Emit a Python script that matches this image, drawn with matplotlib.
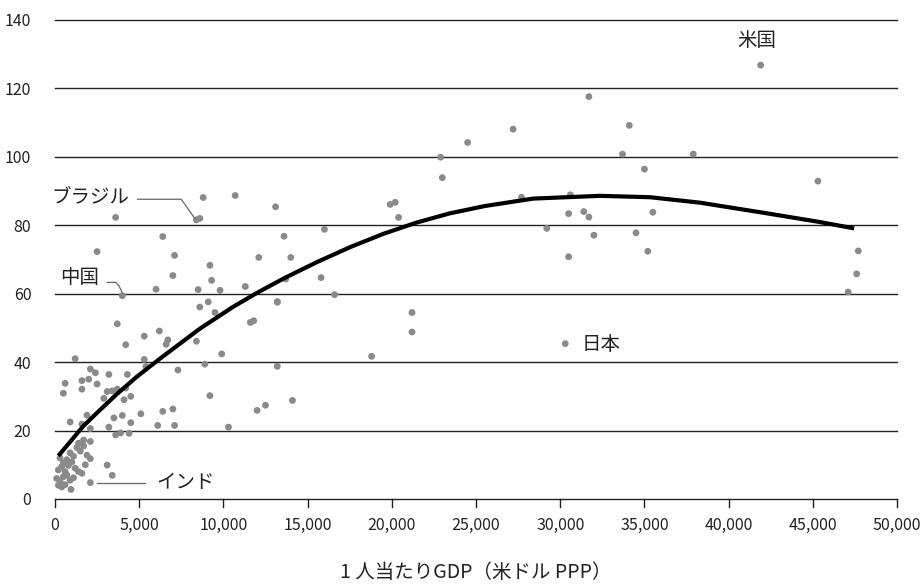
import matplotlib
matplotlib.use("Agg")
import matplotlib.pyplot as plt
from matplotlib import font_manager

plt.rcParams['font.family'] = ['Noto Sans CJK JP', 'DejaVu Sans']

names = {f.name for f in font_manager.fontManager.ttflist}
tick_family = ['Liberation Sans Narrow'] if 'Liberation Sans Narrow' in names else ['Noto Sans CJK JP']

# ---- data (GDP per capita, USD PPP ; index value) ----
gdp = [
    41900, 31700, 27200, 24500, 34100, 22900, 23000, 33700, 37900, 35000,
    45300, 27700, 30600, 19900, 20200, 20400, 30500, 31400, 31700, 35500,
    29200, 32000, 34500, 35200, 30500, 47700, 47600, 47100, 16000, 13600,
    14000, 15800, 16600, 21200, 21200, 18800, 30300, 13700, 13200,
    8400, 8600, 8800, 10700, 13100, 3600, 2500, 6400, 7100, 7000,
    9200, 9300, 6000, 8500, 9800, 4000, 11300, 12100, 8600, 9100,
    9500, 13200, 3700, 11600, 11800, 8400, 6200, 6700, 6600, 5300,
    4200, 9900, 8900, 13200, 5300, 5400, 7300, 9200, 14100, 12000,
    12500, 10300, 7000, 6400, 6100, 7100, 5100,
    1200, 2100, 2400, 3200, 4300, 600, 500, 1600, 2000, 1600,
    2500, 3100, 3400, 3700, 4200, 2900, 4100, 4500, 900, 1600,
    1900, 2100, 3200, 3500, 4000, 4500, 3600, 3900, 4400, 1700,
    2100, 1400,
    300, 500, 700, 900, 1100, 1300, 1500, 1700, 1900, 2100,
    200, 400, 600, 800, 1000, 1200, 1400, 1600, 1800,
    100, 300, 500, 700, 900, 1100, 200, 400, 950, 600,
    2100, 3100, 3400,
]
score = [
    126.8, 117.6, 108.1, 104.2, 109.2, 99.9, 93.9, 100.8, 100.8, 96.4,
    92.9, 88.2, 88.9, 86.1, 86.7, 82.3, 83.4, 84.0, 82.4, 83.8,
    79.1, 77.1, 77.8, 72.4, 70.8, 72.5, 65.8, 60.5, 78.8, 76.8,
    70.6, 64.7, 59.7, 54.5, 48.8, 41.7, 45.4, 64.3, 57.7,
    81.6, 82.0, 88.1, 88.7, 85.4, 82.3, 72.3, 76.7, 71.2, 65.3,
    68.3, 63.9, 61.3, 61.2, 61.0, 59.4, 62.1, 70.6, 56.1, 57.6,
    54.5, 57.5, 51.2, 51.6, 52.1, 46.1, 49.1, 46.5, 45.2, 47.6,
    45.1, 42.4, 39.4, 38.8, 40.8, 38.7, 37.7, 30.2, 28.8, 25.9,
    27.4, 21.0, 26.3, 25.6, 21.5, 21.5, 24.9,
    41.0, 38.0, 36.9, 36.4, 36.4, 33.8, 30.9, 34.6, 35.0, 32.1,
    33.6, 31.4, 31.6, 32.1, 32.4, 29.4, 29.0, 30.0, 22.5, 21.9,
    24.5, 20.6, 21.0, 23.7, 24.4, 22.3, 18.7, 19.3, 19.2, 17.2,
    16.8, 16.3,
    12.0, 10.5, 11.5, 13.5, 12.5, 15.0, 14.0, 15.5, 12.8, 11.8,
    8.5, 9.5, 8.0, 9.8, 10.8, 9.0, 8.0, 7.5, 10.0,
    6.0, 5.0, 6.5, 7.0, 5.5, 6.2, 4.0, 3.5, 2.8, 4.2,
    4.8, 9.9, 6.9,
]

# trend curve
trend_x = [200, 1680, 2670, 3660, 4850, 6230, 8610, 10590, 11980, 13560,
           15540, 17520, 19500, 21480, 23460, 25500, 28400, 32360, 35330,
           38300, 42260, 45230, 47450]
trend_y = [12.6, 21.3, 26.0, 30.6, 35.7, 41.0, 49.8, 56.2, 60.2, 64.4,
           69.2, 73.6, 77.5, 80.8, 83.5, 85.6, 87.8, 88.6, 88.2,
           86.6, 83.5, 81.1, 79.1]

yticks = [0, 20, 40, 60, 80, 100, 120, 140]
xticks = list(range(0, 50001, 5000))
xticklabels = ['0'] + [f'{v:,}' for v in xticks[1:]]

fig = plt.figure(figsize=(9.21, 5.86), dpi=100)
ax = fig.add_axes([0.0597, 0.1485, 0.9143, 0.8174])
ax.set_xlim(0, 50000)
ax.set_ylim(0, 140)

for yv in yticks[1:]:
    ax.axhline(yv, color='#222222', lw=1.0, zorder=1, clip_on=False)

ax.scatter(gdp, score, s=24, color='#8a8a8a', edgecolors='none', zorder=2, clip_on=False)
ax.plot(trend_x, trend_y, color='black', lw=3.0, zorder=3,
        solid_joinstyle='round', solid_capstyle='butt')

for sp in ['top', 'right', 'left']:
    ax.spines[sp].set_visible(False)
ax.spines['bottom'].set_color('#222222')
ax.spines['bottom'].set_linewidth(1.0)

ax.set_yticks(yticks)
ax.set_yticklabels([str(v) for v in yticks], fontsize=11.5, color='#222222', family=tick_family)
ax.tick_params(axis='y', length=0, pad=17)
ax.set_xticks(xticks)
ax.set_xticklabels(xticklabels, fontsize=11.5, color='#222222', family=tick_family)
ax.tick_params(axis='x', direction='in', length=0, pad=13)
# downward tick marks
for xv in xticks:
    ax.plot([xv, xv], [0, -2.3], color='#222222', lw=1.0, clip_on=False, zorder=1)

ax.set_xlabel('1 人当たりGDP（米ドル PPP）', fontsize=14, color='#222222', labelpad=20)

# annotations
txt_kw = dict(fontsize=14, color='#222222', zorder=4)
ax.text(41700, 134.0, '米国', ha='center', va='center', **txt_kw)
ax.text(31300, 45.2, '日本', ha='left', va='center', **txt_kw)
ax.text(4450, 87.9, 'ブラジル', ha='right', va='center', clip_on=False, **txt_kw)
ax.plot([4900, 7500, 8300], [87.6, 87.6, 82.0], color='#666666', lw=0.9, clip_on=False, zorder=4)
ax.text(2600, 64.7, '中国', ha='right', va='center', clip_on=False, **txt_kw)
ax.plot([3100, 3600, 3800, 4000], [63.3, 63.3, 62.3, 60.2], color='#666666', lw=0.9, clip_on=False, zorder=4)
ax.text(6000, 4.8, 'インド', ha='left', va='center', **txt_kw)
ax.plot([2500, 5350], [4.8, 4.8], color='#666666', lw=0.9, zorder=4)

fig.savefig('out.png', dpi=100)
